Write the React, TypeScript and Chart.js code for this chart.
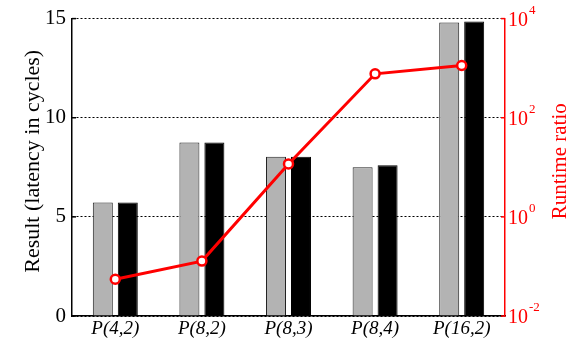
import React, { useEffect, useRef } from 'react';
import { Chart, registerables } from 'chart.js';

Chart.register(...registerables);

const categories = ['P(4,2)', 'P(8,2)', 'P(8,3)', 'P(8,4)', 'P(16,2)'];
const seriesGray = [5.72, 8.75, 8.03, 7.5, 14.8];
const seriesBlack = [5.72, 8.75, 8.03, 7.6, 14.85];
const runtimeRatio = [0.055, 0.128, 11.7, 769, 1130];
const leftTicks = [0, 5, 10, 15];
const rightTickExponents = [-2, 0, 2, 4];
const leftTitle = 'Result (latency in cycles)';
const rightTitle = 'Runtime ratio';

const FONT = "'Liberation Serif', 'Times New Roman', serif";
const RED = '#ff0000';

export default function App() {
  const ref = useRef<HTMLCanvasElement>(null);

  useEffect(() => {
    const canvas = ref.current;
    if (!canvas) return;

    const axisPlugin = {
      id: 'customAxes',
      afterDraw(chart: any) {
        const ctx = chart.ctx;
        const area = chart.chartArea;
        const yL = chart.scales.y;
        const yR = chart.scales.yR;
        ctx.save();
        // inward tick marks
        ctx.lineWidth = 1.5;
        ctx.strokeStyle = '#000';
        for (const v of leftTicks) {
          const y = yL.getPixelForValue(v);
          ctx.beginPath();
          ctx.moveTo(area.left, y);
          ctx.lineTo(area.left + 4, y);
          ctx.stroke();
        }
        ctx.strokeStyle = RED;
        for (const e of rightTickExponents) {
          const y = yR.getPixelForValue(Math.pow(10, e));
          ctx.beginPath();
          ctx.moveTo(area.right - 4, y);
          ctx.lineTo(area.right, y);
          ctx.stroke();
        }
        // right tick labels with superscripts
        ctx.fillStyle = RED;
        ctx.textAlign = 'left';
        ctx.textBaseline = 'middle';
        for (const e of rightTickExponents) {
          const y = yR.getPixelForValue(Math.pow(10, e));
          ctx.font = `20px ${FONT}`;
          const x0 = area.right + 3;
          ctx.fillText('10', x0, y + 2);
          const w = ctx.measureText('10').width;
          ctx.font = `13px ${FONT}`;
          ctx.fillText(String(e), x0 + w + 1, y - 8);
        }
        const midY = (area.top + area.bottom) / 2 - 6;
        // right title
        ctx.save();
        ctx.font = `21px ${FONT}`;
        ctx.textAlign = 'center';
        ctx.translate(area.right + 55, midY);
        ctx.rotate(-Math.PI / 2);
        ctx.fillText(rightTitle, 0, 0);
        ctx.restore();
        // left title
        ctx.save();
        ctx.fillStyle = '#000';
        ctx.font = `22px ${FONT}`;
        ctx.textAlign = 'center';
        ctx.textBaseline = 'middle';
        ctx.translate(area.left - 39, midY);
        ctx.rotate(-Math.PI / 2);
        ctx.fillText(leftTitle, 0, 0);
        ctx.restore();
        ctx.restore();
      },
    };

    const chart = new Chart(canvas, {
      type: 'bar',
      data: {
        labels: categories,
        datasets: [
          {
            type: 'line',
            data: runtimeRatio,
            yAxisID: 'yR',
            borderColor: RED,
            borderWidth: 3,
            pointRadius: 4.5,
            pointBorderWidth: 2.5,
            pointBackgroundColor: '#ffffff',
            pointBorderColor: RED,
            tension: 0,
            order: 0,
          } as any,
          {
            type: 'bar',
            data: seriesGray,
            yAxisID: 'y',
            backgroundColor: '#b3b3b3',
            borderColor: '#222222',
            borderWidth: 1,
            categoryPercentage: 0.577,
            barPercentage: 0.8,
            order: 1,
          },
          {
            type: 'bar',
            data: seriesBlack,
            yAxisID: 'y',
            backgroundColor: '#000000',
            borderColor: '#000000',
            borderWidth: 1,
            categoryPercentage: 0.577,
            barPercentage: 0.8,
            order: 1,
          },
        ],
      },
      options: {
        responsive: false,
        animation: false,
        layout: { padding: { top: 16, left: 0, right: 0, bottom: 0 } },
        plugins: { legend: { display: false }, tooltip: { enabled: false } },
        scales: {
          x: {
            offset: true,
            grid: { display: false, drawTicks: false },
            border: { display: true, color: '#000', width: 1.5 },
            ticks: {
              color: '#000',
              padding: 2,
              maxRotation: 0,
              font: { family: FONT, size: 19, style: 'italic' },
            },
            afterFit(scale: any) {
              scale.height = 25;
            },
          },
          y: {
            position: 'left',
            min: 0,
            max: 15,
            afterBuildTicks(scale: any) {
              scale.ticks = leftTicks.map((v) => ({ value: v }));
            },
            grid: { color: '#000', lineWidth: 1, drawTicks: false },
            border: { display: true, color: '#000', width: 1.5, dash: [2, 2] },
            ticks: {
              color: '#000',
              padding: 6,
              font: { family: FONT, size: 21 },
            },
            afterFit(scale: any) {
              scale.width = 72;
            },
          },
          yR: {
            type: 'logarithmic',
            position: 'right',
            min: 0.01,
            max: 10000,
            afterBuildTicks(scale: any) {
              scale.ticks = rightTickExponents.map((e) => ({ value: Math.pow(10, e) }));
            },
            grid: { display: false, drawOnChartArea: false, drawTicks: false },
            border: { display: true, color: RED, width: 1.5 },
            ticks: { display: false },
            afterFit(scale: any) {
              scale.width = 77;
            },
          },
        },
      },
      plugins: [axisPlugin],
    });

    return () => chart.destroy();
  }, []);

  return (
    <div style={{ position: 'fixed', left: 0, top: 0, width: 582, height: 341, background: '#fff' }}>
      <canvas ref={ref} width={582} height={341} style={{ display: 'block' }} />
    </div>
  );
}
